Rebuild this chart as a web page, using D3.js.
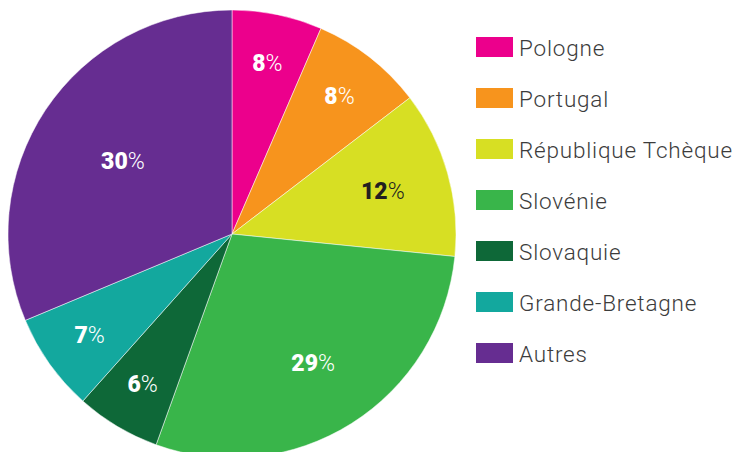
<!DOCTYPE html>
<html>
<head>
<meta charset="utf-8">
<script src="https://cdn.jsdelivr.net/npm/d3@7"></script>
<style>
  body { margin: 0; background: #fff; }
  svg { display: block; }
</style>
</head>
<body>
<div id="chart"></div>
<script>
const countries = ["Pologne", "Portugal", "République Tchèque", "Slovénie", "Slovaquie", "Grande-Bretagne", "Autres"];
const shares = [6.5, 8.1, 12.0, 28.9, 6.1, 7.1, 31.3];
const shareLabels = ["8", "8", "12", "29", "6", "7", "30"];
const colors = ["#ec008c", "#f7941d", "#d7df23", "#39b54a", "#0e6838", "#13a89e", "#662d91"];

const width = 735, height = 452;
const cx = 232, cy = 234, radius = 224;

const svg = d3.select("#chart").append("svg")
    .attr("width", width)
    .attr("height", height);

const pie = d3.pie().sort(null).value(d => d.v);
const arcs = pie(countries.map((c, i) => ({ name: c, v: shares[i], label: shareLabels[i], color: colors[i] })));

const arc = d3.arc().innerRadius(0).outerRadius(radius);

const g = svg.append("g").attr("transform", "translate(" + cx + "," + cy + ")");

g.selectAll("path")
    .data(arcs).enter()
    .append("path")
    .attr("d", arc)
    .attr("fill", d => d.data.color)
    .attr("stroke", "#fff")
    .attr("stroke-width", 0.5);

// bigger slices get their label closer to the centre
function labelArc(d) {
    const k = d.data.v > 30 ? 0.585 : d.data.v > 20 ? 0.68 : d.data.v > 10 ? 0.70 : 0.78;
    const r = radius * k;
    return d3.arc().innerRadius(r).outerRadius(r).centroid(d);
}

const labels = g.selectAll(".lbl")
    .data(arcs).enter()
    .append("text")
    .attr("class", "lbl")
    .attr("transform", d => "translate(" + labelArc(d) + ")")
    .attr("text-anchor", "middle")
    .attr("dominant-baseline", "central")
    .style("font-family", "Roboto, 'DejaVu Sans', sans-serif")
    .style("font-size", "23px")
    .attr("fill", d => d.data.name === "République Tchèque" ? "#231f20" : "#fff");

labels.append("tspan").style("font-weight", "900").text(d => d.data.label);
labels.append("tspan").style("font-weight", "300").text("%");

// legend
const legend = svg.append("g").attr("transform", "translate(476,47)");
const row = legend.selectAll("g")
    .data(countries).enter()
    .append("g")
    .attr("transform", (d, i) => "translate(0," + (i * 51) + ")");

row.append("rect")
    .attr("x", 0)
    .attr("y", -10)
    .attr("width", 37)
    .attr("height", 20)
    .attr("fill", (d, i) => colors[i]);

row.append("text")
    .attr("x", 43)
    .attr("y", 1)
    .attr("dominant-baseline", "central")
    .style("font-family", "Roboto, 'DejaVu Sans', sans-serif")
    .style("font-size", "22.5px")
    .style("font-weight", "300")
    .style("letter-spacing", "0.8px")
    .attr("fill", "#3c3c3c")
    .text(d => d);
</script>
</body>
</html>
